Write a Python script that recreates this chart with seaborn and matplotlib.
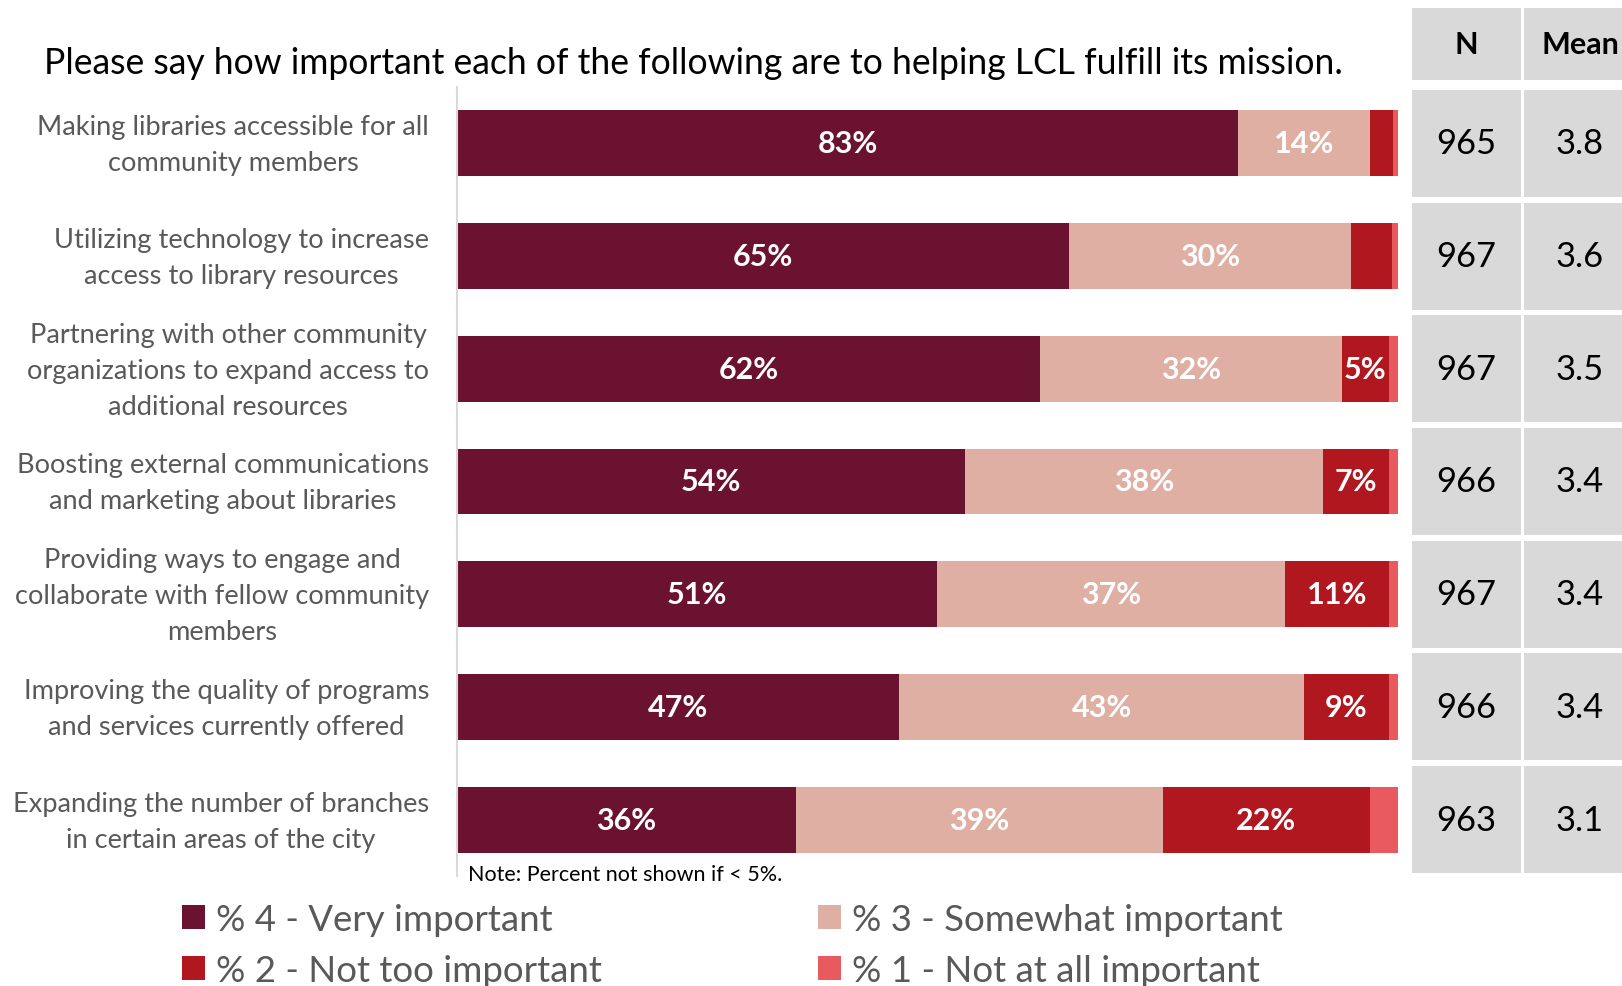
import matplotlib
matplotlib.use("Agg")
import matplotlib.pyplot as plt
from matplotlib.patches import Patch
from matplotlib.transforms import ScaledTranslation
import numpy as np
import pandas as pd
import seaborn as sns

# ---- data ----
items = [
    "Making libraries accessible for all\ncommunity members",
    "Utilizing technology to increase\naccess to library resources",
    "Partnering with other community\norganizations to expand access to\nadditional resources",
    "Boosting external communications\nand marketing about libraries",
    "Providing ways to engage and\ncollaborate with fellow community\nmembers",
    "Improving the quality of programs\nand services currently offered",
    "Expanding the number of branches\nin certain areas of the city",
]
very_important = [83, 65, 62, 54, 51, 47, 36]
somewhat_important = [14, 30, 32, 38, 37, 43, 39]
not_too_important = [2.5, 4.4, 5, 7, 11, 9, 22]
not_at_all_important = [0.5, 0.6, 1, 1, 1, 1, 3]
n_values = [965, 967, 967, 966, 967, 966, 963]
mean_values = [3.8, 3.6, 3.5, 3.4, 3.4, 3.4, 3.1]

series_names = ["% 4 - Very important", "% 3 - Somewhat important",
                "% 2 - Not too important", "% 1 - Not at all important"]
series_colors = ["#6B1230", "#DFAFA4", "#B0171F", "#E85A60"]

title = "Please say how important each of the following are to helping LCL fulfill its mission."
note = "Note: Percent not shown if < 5%."

# ---- style ----
sns.set_theme(style="white")
plt.rcParams["font.family"] = ["Lato", "DejaVu Sans"]

W, H = 1622, 987
fig = plt.figure(figsize=(W / 100, H / 100), dpi=100)

# main stacked bar axes
ax = fig.add_axes([457 / W, 1 - 877 / H, (1398 - 457) / W, (877 - 88) / H])

df = pd.DataFrame({
    "item": items,
    "v4": very_important,
    "v3": somewhat_important,
    "v2": not_too_important,
    "v1": not_at_all_important,
})
cols = ["v4", "v3", "v2", "v1"]
cum = df[cols].cumsum(axis=1)

# draw cumulative totals from the longest to the shortest so segments stack
for col, color in reversed(list(zip(cols, series_colors))):
    sns.barplot(data=cum.assign(item=df["item"]), x=col, y="item", color=color,
                saturation=1, width=0.585, linewidth=0, orient="h", ax=ax)

# percentage labels (shown when >= 5%)
left = np.zeros(len(df))
for col in cols:
    vals = df[col].to_numpy()
    for i, v in enumerate(vals):
        if v >= 5:
            ax.text(left[i] + v / 2, i, f"{v:.0f}%", ha="center", va="center",
                    color="white", fontsize=22, fontweight="bold")
    left += vals

ax.set_xlim(0, 100)
ax.set_ylim(6.5, -0.5)
ax.set_xlabel("")
ax.set_ylabel("")
ax.set_xticks([])
for s in ["top", "right", "bottom"]:
    ax.spines[s].set_visible(False)
ax.spines["left"].set_color("#D9D9D9")
ax.spines["left"].set_linewidth(1.5)
ax.tick_params(axis="y", length=0, pad=20, labelsize=19.6, labelcolor="#595959")
lift = ScaledTranslation(0, 0.065, fig.dpi_scale_trans)
for lab in ax.get_yticklabels():
    lab.set_multialignment("center")
    lab.set_linespacing(1.55)
    lab.set_transform(lab.get_transform() + lift)

# title and note
fig.text(44 / W, 1 - 64 / H, title, ha="left", va="center", fontsize=25.6, color="black")
fig.text(468 / W, 1 - 875 / H, note, ha="left", va="center", fontsize=15.5, color="black")

# ---- N / Mean table ----
tax = fig.add_axes([1412 / W, 1 - 877 / H, 210 / W, (877 - 7) / H])
px_per_row = (877 - 88) / 7
tax.set_ylim(6.5, -0.5 - 81 / px_per_row)
tax.set_xlim(0, 210 / 112)
tax.axis("off")

rows = np.arange(len(items))
cell_grey = "#D9D9D9"
col_widths = [0.973, 1.0]
col_lefts = [0.0, 1.0]
header_y, header_h = -0.88, 0.64
for c, (cl, cw) in enumerate(zip(col_lefts, col_widths)):
    tax.barh(rows, cw, left=cl, height=0.95, color=cell_grey, linewidth=0)
    tax.barh([header_y], cw, left=cl, height=header_h, color=cell_grey, linewidth=0)

for label, cl, cw in zip(["N", "Mean"], col_lefts, col_widths):
    tax.text(cl + cw / 2, header_y, label, ha="center", va="center",
             fontsize=22, fontweight="bold", color="black")
for i in rows:
    tax.text(col_lefts[0] + col_widths[0] / 2, i, f"{n_values[i]}", ha="center",
             va="center", fontsize=24.8, color="black")
    tax.text(col_lefts[1] + col_widths[1] / 2, i, f"{mean_values[i]:.1f}", ha="center",
             va="center", fontsize=24.8, color="black")

# ---- legend ----
handles = [Patch(facecolor=c, edgecolor="none") for c in series_colors]
order = [0, 2, 1, 3]
fig.legend([handles[k] for k in order], [series_names[k] for k in order],
           ncol=2, loc="upper left", bbox_to_anchor=(182 / W, 1 - 904 / H),
           frameon=False, fontsize=26.4, labelcolor="#595959",
           handlelength=0.63, handleheight=0.63, handletextpad=0.3,
           columnspacing=5.9, labelspacing=0.48, borderpad=0, borderaxespad=0)

fig.savefig("out.png", dpi=100)
